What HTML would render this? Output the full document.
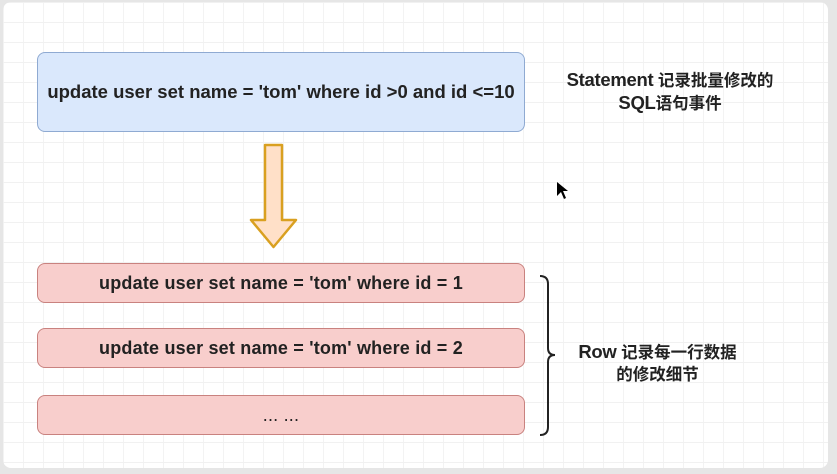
<!DOCTYPE html>
<html><head><meta charset="utf-8"><style>
html,body{margin:0;padding:0;width:837px;height:474px;overflow:hidden;background:#e6e6e6;}
.card{position:absolute;left:3px;top:2px;width:825px;height:466px;background:#fff;border-radius:8px;
background-image:linear-gradient(#f1f1f1 1px,transparent 1px),linear-gradient(90deg,#f3f3f3 1px,transparent 1px);background-size:20px 20px;}
.box{position:absolute;left:37px;width:486px;border-radius:8px;display:flex;align-items:center;justify-content:center;
font-family:"Liberation Sans",sans-serif;font-weight:bold;font-size:18px;letter-spacing:0.2px;color:#222;white-space:nowrap;}
.blue{top:52px;height:78px;background:#dae8fc;border:1.5px solid #8faad2;font-size:18.5px;letter-spacing:0px;}
.red{height:38px;background:#f8cecc;border:1.5px solid #c9827f;}
.t{position:absolute;font-family:"Liberation Sans","Noto Sans CJK SC",sans-serif;font-weight:bold;font-size:16.5px;color:#222;text-align:center;line-height:22px;white-space:nowrap;}
.t b{font-size:18.5px;letter-spacing:-0.3px;}
</style></head><body>
<div class="card"></div>
<div class="box blue">update user set name = 'tom' where id &gt;0 and id &lt;=10</div>
<div class="box red" style="top:263px">update user set name = 'tom' where id = 1</div>
<div class="box red" style="top:328px">update user set name = 'tom' where id = 2</div>
<div class="box red" style="top:395px;font-weight:normal">... ...</div>
<div class="t" style="left:550px;top:69px;width:240px"><b>Statement</b> 记录批量修改的<br><b>SQL</b>语句事件</div>
<div class="t" style="left:565px;top:341px;width:185px"><b>Row</b> 记录每一行数据<br>的修改细节</div>
<svg style="position:absolute;left:0;top:0" width="837" height="474">
<path d="M265,145 H282 V220 H296 L273.5,247 L251,220 H265 Z" fill="#ffe0c8" stroke="#d9a020" stroke-width="2.5" stroke-linejoin="round"/>
<path d="M540,276 Q548,276 548,284 V348 Q548,355 555,355 Q548,355 548,362 V427 Q548,435 540,435" fill="none" stroke="#222" stroke-width="2"/>
<path d="M557,182 V196 L561,192 L564,199 L566,198 L563,191 L568,191 Z" fill="#000"/>
</svg>
</body></html>
